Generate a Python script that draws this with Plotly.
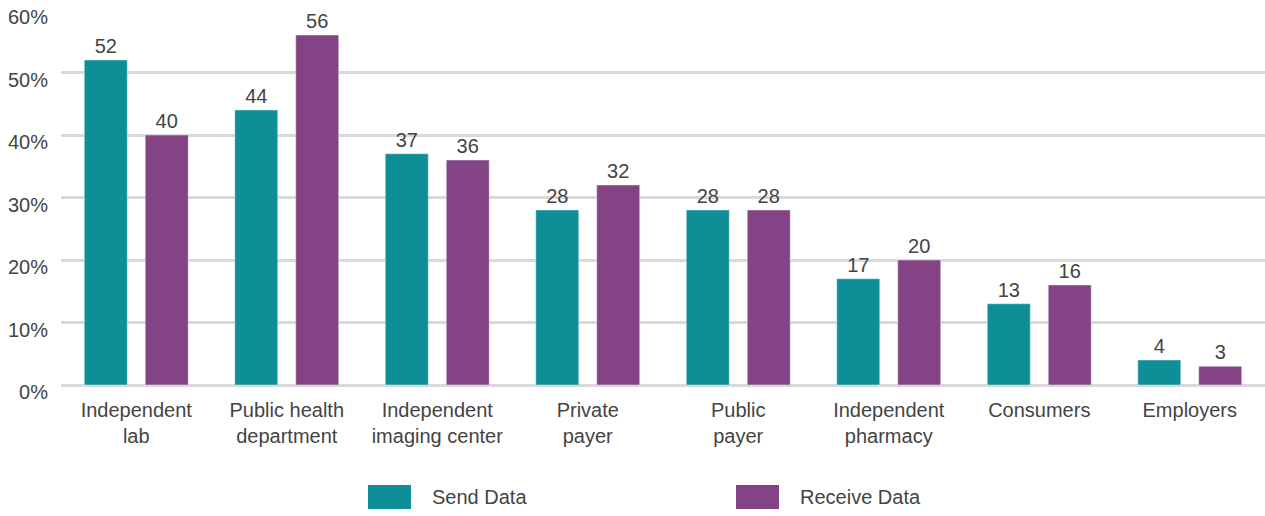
import plotly.graph_objects as go

categories = [
    "Independent<br>lab",
    "Public health<br>department",
    "Independent<br>imaging center",
    "Private<br>payer",
    "Public<br>payer",
    "Independent<br>pharmacy",
    "Consumers",
    "Employers",
]
send_data = [52, 44, 37, 28, 28, 17, 13, 4]
receive_data = [40, 56, 36, 32, 28, 20, 16, 3]
y_ticks = [0, 10, 20, 30, 40, 50, 60]
y_tick_labels = ["0%", "10%", "20%", "30%", "40%", "50%", "60%"]

TEAL = "#0E8F98"
PURPLE = "#834384"
TEXT = "#444444"
FONT = "Liberation Sans"
SIZE = 20

fig = go.Figure()
for name, vals, color in [("Send Data", send_data, TEAL), ("Receive Data", receive_data, PURPLE)]:
    fig.add_trace(go.Bar(
        name=name, x=categories, y=vals, marker_color=color,
        text=[str(v) for v in vals], textposition="outside",
        textfont=dict(size=SIZE, color=TEXT, family=FONT), cliponaxis=False,
    ))

fig.update_layout(
    width=1265, height=516,
    margin=dict(l=61, r=0, t=9, b=131),
    paper_bgcolor="white", plot_bgcolor="white",
    barmode="group", bargap=0.19, bargroupgap=0.295,
    showlegend=False,
    font=dict(family=FONT, size=SIZE, color=TEXT),
    xaxis=dict(showline=False, ticks="", tickfont=dict(size=SIZE), ticklabelstandoff=11),
    yaxis=dict(
        range=[0, 60.16], tickvals=y_ticks, ticktext=y_tick_labels,
        showgrid=True, gridcolor="#D9D9D9", gridwidth=3,
        zeroline=True, zerolinecolor="#D9D9D9", zerolinewidth=3,
        ticks="", ticklabelstandoff=12, ticklabelshift=7,
        tickfont=dict(size=SIZE),
    ),
    uniformtext=dict(minsize=SIZE, mode="show"),
)

# Legend drawn as swatches with labels under the plot
plot_w, plot_h = 1204, 376
legend_items = [("Send Data", TEAL, 368), ("Receive Data", PURPLE, 736)]
for label, color, px in legend_items:
    fig.add_shape(type="rect", xref="paper", yref="paper",
                  x0=(px - 61) / plot_w, x1=(px + 43 - 61) / plot_w,
                  y0=(385 - 509) / plot_h, y1=(385 - 485) / plot_h,
                  fillcolor=color, line_width=0)
    fig.add_annotation(text=label, xref="paper", yref="paper",
                       x=(px + 62 - 61) / plot_w, y=(385 - 497) / plot_h,
                       xanchor="left", yanchor="middle", showarrow=False,
                       font=dict(size=SIZE, color=TEXT, family=FONT))

fig.write_html("out.html")
